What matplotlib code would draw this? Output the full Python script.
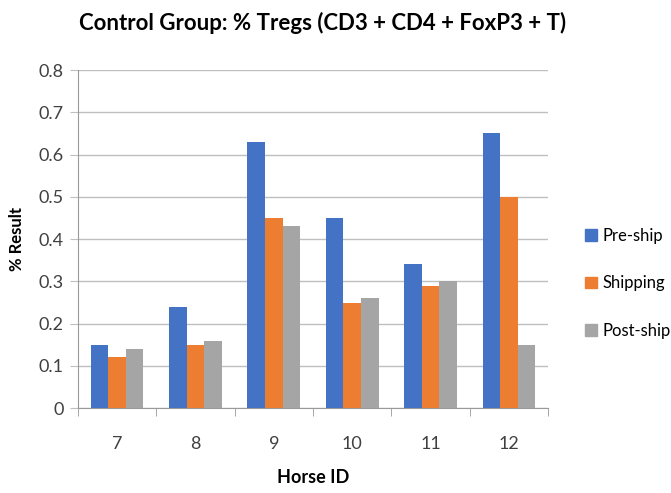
import numpy as np
import matplotlib.pyplot as plt
from matplotlib.patches import Patch

plt.rcParams['font.family'] = ['Lato', 'DejaVu Sans']

horses = ['7', '8', '9', '10', '11', '12']
pre_ship = [0.15, 0.24, 0.63, 0.45, 0.34, 0.65]
shipping = [0.12, 0.15, 0.45, 0.25, 0.29, 0.50]
post_ship = [0.14, 0.16, 0.43, 0.26, 0.30, 0.15]

series = [('Pre-ship', pre_ship, '#4472C4'),
          ('Shipping', shipping, '#ED7D31'),
          ('Post-ship', post_ship, '#A5A5A5')]

fig = plt.figure(figsize=(6.71, 4.93), dpi=100)
ax = fig.add_axes([0.116, 0.172, 0.701, 0.686])

x = np.arange(len(horses))
w = 0.225
for i, (name, vals, col) in enumerate(series):
    ax.bar(x + (i - 1) * w, vals, w, color=col, label=name, zorder=3)

ax.set_xlim(-0.5, len(horses) - 0.5)
ax.set_ylim(0, 0.8)
ax.set_yticks(np.arange(0, 0.81, 0.1))
ax.set_yticklabels(['0', '0.1', '0.2', '0.3', '0.4', '0.5', '0.6', '0.7', '0.8'])
ax.grid(axis='y', color='#BFBFBF', linewidth=1, zorder=0)
ax.tick_params(axis='y', length=6, color='#BFBFBF', labelsize=13, pad=4, labelcolor='#404040')

ax.set_xticks(x)
ax.set_xticklabels(horses)
ax.set_xticks(np.arange(-0.5, len(horses)), minor=True)
ax.tick_params(axis='x', which='major', length=0, labelsize=13, pad=20, labelcolor='#404040')
ax.tick_params(axis='x', which='minor', length=6, color='#999999')

for s in ['top', 'right']:
    ax.spines[s].set_visible(False)
ax.spines['left'].set_color('#999999')
ax.spines['bottom'].set_color('#999999')

ax.set_ylabel('% Result', fontsize=12, fontweight='bold', labelpad=10)
ax.set_xlabel('Horse ID', fontsize=13, fontweight='bold', labelpad=12)
fig.suptitle('Control Group: % Tregs (CD3 + CD4 + FoxP3 + T)', fontsize=16,
             fontweight='bold', x=0.48, y=0.975)

handles = [Patch(color=c, label=n) for n, _, c in series]
fig.legend(handles=handles, loc='center left', bbox_to_anchor=(0.855, 0.425),
           frameon=False, fontsize=12, handlelength=0.7, handleheight=0.7,
           handletextpad=0.3, labelspacing=1.9, borderpad=0.2)

plt.savefig('out.png', dpi=100)
